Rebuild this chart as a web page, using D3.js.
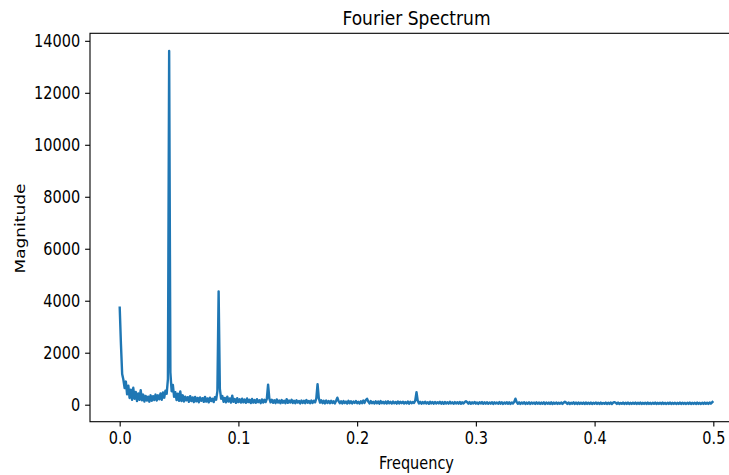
<!DOCTYPE html>
<html>
<head>
<meta charset="utf-8">
<script src="https://cdn.jsdelivr.net/npm/d3@7"></script>
<style>
  body { margin: 0; background: #fff; }
  text { font-family: "DejaVu Sans", sans-serif; fill: #000; }
</style>
</head>
<body>
<div id="chart"></div>
<script>
// FFT bins run from 0 to 0.5 (Nyquist), one row = 20 bins
const BINS_PER_HALF = 960;

const magnitude = [
  3780, 2350, 1180, 960, 640, 890, 400, 730, 260, 580, 190, 650, 230, 490, 140, 430, 190, 560, 170, 390,
  120, 340, 160, 310, 115, 360, 150, 330, 180, 390, 160, 360, 210, 430, 190, 470, 270, 540, 420, 980,
  13610, 1250, 520, 760, 300, 480, 180, 420, 150, 510, 140, 360, 120, 310, 170, 290, 110, 330, 140, 280,
  100, 300, 130, 260, 95, 280, 150, 250, 110, 300, 120, 240, 90, 270, 140, 230, 100, 290, 190, 520,
  4360, 610, 230, 330, 110, 260, 90, 310, 120, 240, 80, 350, 110, 220, 70, 250, 100, 210, 80, 230,
  90, 200, 70, 240, 100, 190, 60, 220, 80, 180, 70, 210, 95, 170, 60, 200, 80, 190, 100, 230,
  770, 240, 90, 190, 70, 170, 60, 200, 80, 160, 55, 180, 75, 150, 60, 210, 70, 160, 85, 190,
  65, 150, 55, 170, 80, 140, 50, 160, 70, 150, 60, 180, 75, 140, 55, 160, 70, 150, 90, 240,
  790, 250, 80, 170, 60, 150, 50, 160, 70, 140, 55, 150, 65, 130, 50, 150, 270, 140, 60, 130,
  50, 140, 65, 120, 45, 150, 60, 130, 50, 120, 70, 140, 55, 110, 45, 130, 60, 160, 70, 180,
  230, 120, 50, 140, 60, 110, 45, 130, 55, 120, 40, 140, 60, 110, 50, 120, 45, 130, 55, 110,
  45, 120, 55, 105, 40, 125, 50, 110, 60, 115, 45, 100, 50, 120, 40, 110, 55, 100, 70, 160,
  480, 150, 50, 110, 40, 100, 50, 115, 45, 95, 35, 110, 50, 100, 40, 105, 45, 95, 50, 110,
  40, 100, 35, 105, 45, 95, 40, 110, 50, 90, 35, 100, 45, 95, 40, 105, 35, 90, 45, 100,
  130, 95, 40, 100, 35, 90, 45, 105, 40, 85, 30, 95, 45, 100, 35, 90, 40, 95, 35, 85,
  40, 95, 30, 90, 45, 85, 35, 100, 40, 90, 30, 85, 40, 95, 35, 90, 30, 85, 45, 110,
  230, 100, 35, 90, 30, 85, 40, 95, 30, 80, 35, 90, 30, 85, 40, 80, 30, 90, 35, 85,
  30, 80, 35, 90, 25, 85, 35, 80, 30, 90, 25, 80, 35, 85, 30, 75, 35, 85, 30, 80,
  110, 80, 30, 85, 25, 75, 35, 90, 30, 80, 25, 85, 30, 75, 35, 80, 25, 85, 30, 75,
  30, 80, 25, 75, 35, 85, 30, 75, 25, 80, 30, 70, 35, 80, 25, 75, 30, 85, 25, 80,
  100, 75, 30, 80, 25, 70, 35, 80, 25, 75, 30, 80, 25, 70, 30, 75, 35, 80, 25, 75,
  30, 80, 25, 70, 30, 75, 25, 80, 30, 70, 25, 75, 35, 80, 25, 70, 30, 75, 25, 80,
  30, 70, 25, 75, 30, 80, 25, 70, 30, 75, 25, 70, 30, 80, 25, 75, 30, 70, 25, 75,
  30, 80, 25, 70, 30, 75, 25, 80, 30, 70, 25, 75, 30, 80, 35, 75, 30, 85, 40, 90,
  140
];

const xTicks = [0, 0.1, 0.2, 0.3, 0.4, 0.5];
const yTicks = [0, 2000, 4000, 6000, 8000, 10000, 12000, 14000];

var width = 729;
var height = 475;
var margin = { top: 33.3, right: -14, bottom: 53.3, left: 90 };
var plotW = width - margin.left - margin.right;
var plotH = height - margin.top - margin.bottom;

// the source picture is stretched vertically, so glyphs are taller than wide
var TEXT_STRETCH = 1.17;

var spectrum = magnitude.map(function (m, i) {
  return { freq: i / BINS_PER_HALF, mag: m };
});

// matplotlib style 5% margins
var xExt = d3.extent(spectrum, function (d) { return d.freq; });
var xPad = (xExt[1] - xExt[0]) / 20;
var yExt = d3.extent(spectrum, function (d) { return d.mag; });
var yPad = (yExt[1] - yExt[0]) / 20;

var x = d3.scaleLinear().domain([xExt[0] - xPad, xExt[1] + xPad]).range([0, plotW]);
var y = d3.scaleLinear().domain([yExt[0] - yPad, yExt[1] + yPad]).range([plotH, 0]);

var svg = d3
  .select("#chart")
  .append("svg")
  .attr("width", width)
  .attr("height", height)
  .style("display", "block");

svg.append("rect").attr("width", width).attr("height", height).attr("fill", "#fff");

var g = svg.append("g").attr("transform", "translate(" + margin.left + "," + margin.top + ")");

var line = d3
  .line()
  .x(function (d) { return x(d.freq); })
  .y(function (d) { return y(d.mag); });

g.append("path")
  .datum(spectrum)
  .attr("d", line)
  .attr("fill", "none")
  .attr("stroke", "#1f77b4")
  .attr("stroke-width", 2.4)
  .attr("stroke-linejoin", "round");

var xAxis = d3
  .axisBottom(x)
  .tickValues(xTicks)
  .tickFormat(d3.format(".1f"))
  .tickSize(4.9)
  .tickPadding(4.2)
  .tickSizeOuter(0);

var yAxis = d3
  .axisLeft(y)
  .tickValues(yTicks)
  .tickFormat(d3.format("d"))
  .tickSize(4.9)
  .tickPadding(4.9)
  .tickSizeOuter(0);

var gx = g.append("g").attr("transform", "translate(0," + plotH + ")").call(xAxis);
var gy = g.append("g").call(yAxis);

[gx, gy].forEach(function (ax) {
  ax.select(".domain").remove();
  ax.selectAll(".tick line").attr("stroke", "#000").attr("stroke-width", 1.1);
  ax.selectAll(".tick text")
    .attr("font-family", "DejaVu Sans")
    .attr("font-size", "14.5px")
    .attr("fill", "#000")
    .attr("transform", "scale(1," + TEXT_STRETCH + ")");
});

// spines
g.append("rect")
  .attr("width", plotW)
  .attr("height", plotH)
  .attr("fill", "none")
  .attr("stroke", "#000")
  .attr("stroke-width", 1.1);

svg.append("text")
  .text("Fourier Spectrum")
  .attr("transform", "translate(" + (margin.left + plotW / 2) + ",25) scale(1," + TEXT_STRETCH + ")")
  .attr("text-anchor", "middle")
  .attr("font-size", "17.1px");

svg.append("text")
  .text("Frequency")
  .attr("transform", "translate(" + (margin.left + plotW / 2) + ",469) scale(1," + TEXT_STRETCH + ")")
  .attr("text-anchor", "middle")
  .attr("font-size", "14.5px");

svg.append("text")
  .text("Magnitude")
  .attr("transform", "translate(25," + (margin.top + plotH / 2 + 1) + ") rotate(-90) scale(" + TEXT_STRETCH + ",1)")
  .attr("text-anchor", "middle")
  .attr("font-size", "14.5px");
</script>
</body>
</html>
